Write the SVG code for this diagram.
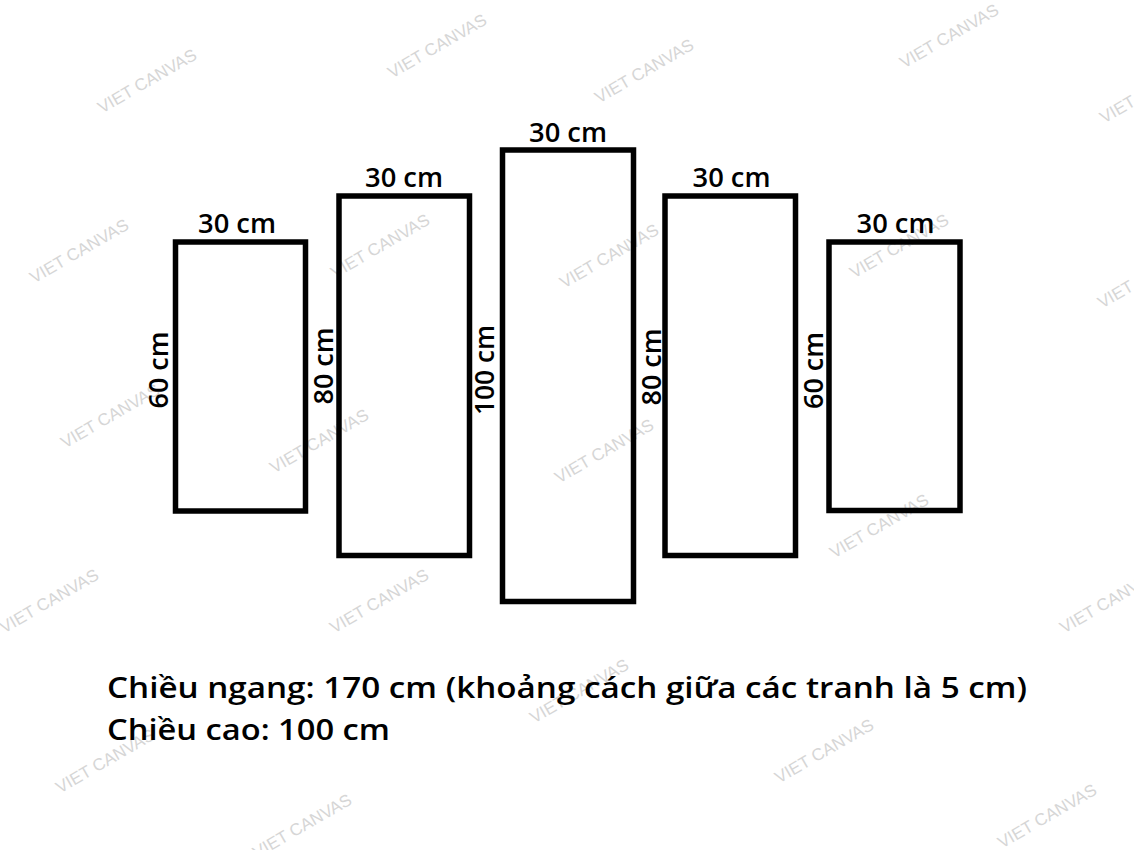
<svg xmlns="http://www.w3.org/2000/svg" width="1134" height="850" viewBox="0 0 1134 850">
<style>
.bg{fill:#ffffff}
.panel{fill:none;stroke:#000;stroke-width:5.5}
.lbl{font-family:"Open Sans","Liberation Sans",sans-serif;font-weight:600;font-size:27px;fill:#000;text-anchor:middle}
.note{font-family:"Open Sans","Liberation Sans",sans-serif;font-weight:600;font-size:29px;fill:#000}
.wm{font-family:"Liberation Sans",Arial,sans-serif;font-size:17px;fill:#d6d6d6;text-anchor:middle}
</style>
<rect class="bg" x="0" y="0" width="1134" height="850"/>
<g id="watermarks">
<text class="wm" transform="translate(150,86) rotate(-30)">VIET CANVAS</text>
<text class="wm" transform="translate(440,51) rotate(-30)">VIET CANVAS</text>
<text class="wm" transform="translate(647,76) rotate(-30)">VIET CANVAS</text>
<text class="wm" transform="translate(952,41) rotate(-30)">VIET CANVAS</text>
<text class="wm" transform="translate(1152,96) rotate(-30)">VIET CANVAS</text>
<text class="wm" transform="translate(82,256) rotate(-30)">VIET CANVAS</text>
<text class="wm" transform="translate(383,251) rotate(-30)">VIET CANVAS</text>
<text class="wm" transform="translate(612,261) rotate(-30)">VIET CANVAS</text>
<text class="wm" transform="translate(902,251) rotate(-30)">VIET CANVAS</text>
<text class="wm" transform="translate(1150,281) rotate(-30)">VIET CANVAS</text>
<text class="wm" transform="translate(113,421) rotate(-30)">VIET CANVAS</text>
<text class="wm" transform="translate(322,446) rotate(-30)">VIET CANVAS</text>
<text class="wm" transform="translate(607,456) rotate(-30)">VIET CANVAS</text>
<text class="wm" transform="translate(882,531) rotate(-30)">VIET CANVAS</text>
<text class="wm" transform="translate(52,606) rotate(-30)">VIET CANVAS</text>
<text class="wm" transform="translate(382,606) rotate(-30)">VIET CANVAS</text>
<text class="wm" transform="translate(1112,606) rotate(-30)">VIET CANVAS</text>
<text class="wm" transform="translate(582,696) rotate(-30)">VIET CANVAS</text>
<text class="wm" transform="translate(827,756) rotate(-30)">VIET CANVAS</text>
<text class="wm" transform="translate(108,766) rotate(-30)">VIET CANVAS</text>
<text class="wm" transform="translate(1050,821) rotate(-30)">VIET CANVAS</text>
<text class="wm" transform="translate(305,831) rotate(-30)">VIET CANVAS</text>
</g>
<g id="panel1">
<rect class="panel" x="175.5" y="242" width="130" height="269"/>
<text class="lbl" x="237" y="233" textLength="78" lengthAdjust="spacingAndGlyphs">30 cm</text>
<text class="lbl" transform="translate(168,370) rotate(-90)" textLength="77" lengthAdjust="spacingAndGlyphs">60 cm</text>
</g>
<g id="panel2">
<rect class="panel" x="339" y="196" width="130.5" height="359.5"/>
<text class="lbl" x="404" y="187" textLength="78" lengthAdjust="spacingAndGlyphs">30 cm</text>
<text class="lbl" transform="translate(333,366) rotate(-90)" textLength="77" lengthAdjust="spacingAndGlyphs">80 cm</text>
</g>
<g id="panel3">
<rect class="panel" x="502.5" y="150" width="131" height="451.5"/>
<text class="lbl" x="568" y="141.5" textLength="78" lengthAdjust="spacingAndGlyphs">30 cm</text>
<text class="lbl" transform="translate(494,370) rotate(-90)" textLength="90" lengthAdjust="spacingAndGlyphs">100 cm</text>
</g>
<g id="panel4">
<rect class="panel" x="665" y="196" width="130.5" height="359.5"/>
<text class="lbl" x="731.5" y="187" textLength="78" lengthAdjust="spacingAndGlyphs">30 cm</text>
<text class="lbl" transform="translate(661,367) rotate(-90)" textLength="77" lengthAdjust="spacingAndGlyphs">80 cm</text>
</g>
<g id="panel5">
<rect class="panel" x="829" y="242" width="131" height="268.5"/>
<text class="lbl" x="895.5" y="233" textLength="78" lengthAdjust="spacingAndGlyphs">30 cm</text>
<text class="lbl" transform="translate(822.5,370.5) rotate(-90)" textLength="77" lengthAdjust="spacingAndGlyphs">60 cm</text>
</g>
<g id="notes">
<text class="note" x="107" y="698" textLength="920" lengthAdjust="spacingAndGlyphs">Chiều ngang: 170 cm (khoảng cách giữa các tranh là 5 cm)</text>
<text class="note" x="107" y="740" textLength="283" lengthAdjust="spacingAndGlyphs">Chiều cao: 100 cm</text>
</g>
</svg>
